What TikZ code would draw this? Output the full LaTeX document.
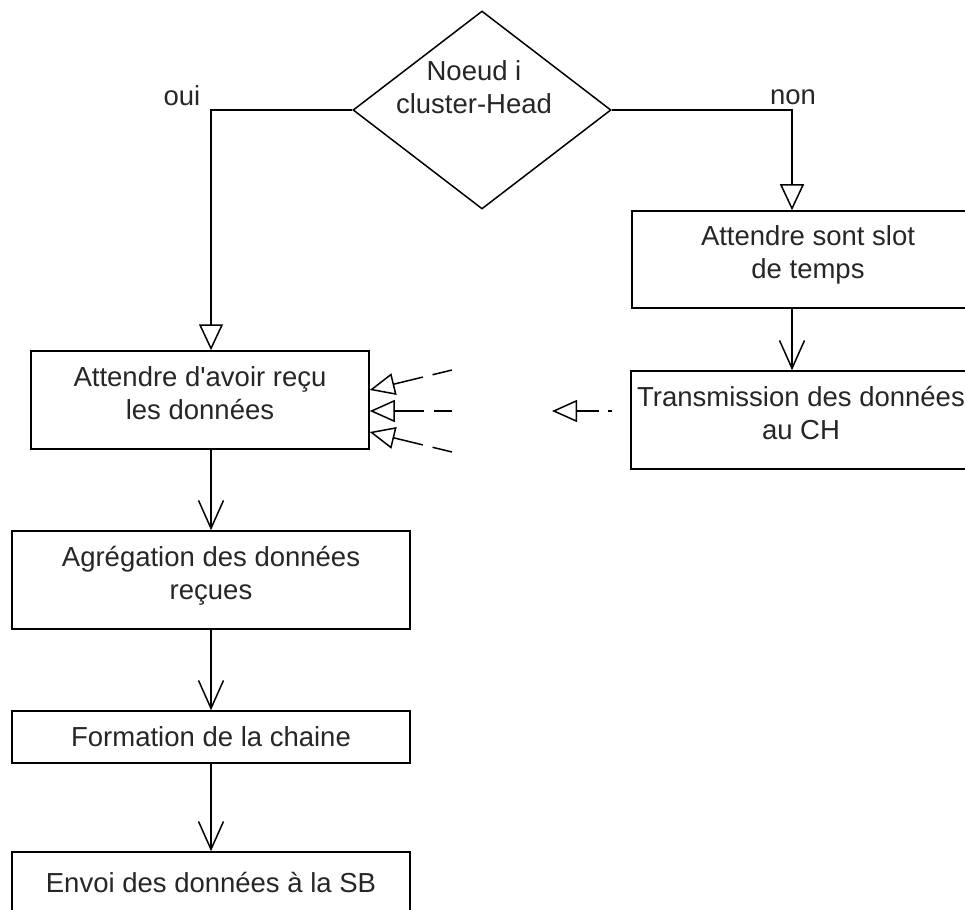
\documentclass[tikz,border=0pt]{standalone}
\usepackage{fontspec}
\setmainfont{Liberation Sans}
\usetikzlibrary{arrows.meta,shapes.geometric}
\begin{document}
\begin{tikzpicture}[x=1pt,y=-1pt,line width=1.5pt,
  every node/.style={font=\fontsize{27.5}{33}\selectfont, text=black!85},
  stepbox/.style={draw, rectangle, inner sep=0pt, align=center},
  % two-line boxes: text sits a little above the middle
  lifted/.style={execute at end node={\rule[-14pt]{0pt}{14pt}}},
  decision/.style={draw, diamond, inner sep=0pt, minimum width=258pt, minimum height=198pt},
  flow/.style={-{Straight Barb[length=28pt,width=25pt]}},
  branch/.style={-{Triangle[open,length=26pt,width=24pt]}},
  incoming/.style={{Triangle[open,length=25pt,width=22pt]}-},
]
\useasboundingbox (0,0) rectangle (965,909);
\clip (0,0) rectangle (965,909);

% decision
\node[decision] (dec) at (482,110) {};
\node[align=center] (dectext) at (474,87) {Noeud i\\cluster-Head};

% cluster-head branch
\node[stepbox, lifted, minimum width=338pt, minimum height=98pt] (wait) at (200,400)
  {Attendre d\textquotesingle avoir reçu\\les données};
\node[stepbox, lifted, minimum width=398pt, minimum height=98pt] (agg) at (211,580)
  {Agrégation des données\\reçues};
\node[stepbox, minimum width=398pt, minimum height=52pt] (chain) at (211,737)
  {Formation de la chaine};
\node[stepbox, minimum width=398pt, minimum height=60pt] (send) at (211,882)
  {Envoi des données à la SB};

% member branch
\node[stepbox, lifted, minimum width=352pt, minimum height=97pt] (slot) at (808,259.5)
  {Attendre sont slot\\de temps};
\node[stepbox, lifted, minimum width=340pt, minimum height=98pt] (trans) at (801,420)
  {Transmission des données\\au CH};

% labels
\node (oui) at (182,96) {oui};
\node (non) at (793,97) {non};

% connectors
\draw[branch] (dec.west) -| ([xshift=11pt]wait.north);
\draw[branch] (dec.east) -| ([xshift=-16pt]slot.north);
\draw[flow] ([xshift=-16pt]slot.south) -- ([xshift=-16pt]slot.south |- trans.north);
\draw[flow] (agg.north |- wait.south) -- (agg.north);
\draw[flow] (agg.south) -- (chain.north);
\draw[flow] (chain.south) -- (send.north);

% incoming data from members
\coordinate (m1) at (452,370);
\coordinate (m2) at (452,411);
\coordinate (m3) at (452,452);
\coordinate (t4) at (552,411);
\coordinate (m4) at (612,411);
\draw[incoming, dash pattern=on 30pt off 10pt] ([yshift=10pt]wait.east) -- (m1);
\draw[incoming, dash pattern=on 30pt off 10pt] ([yshift=-11pt]wait.east) -- (m2);
\draw[incoming, dash pattern=on 30pt off 10pt] ([yshift=-32pt]wait.east) -- (m3);
\draw[incoming, dash pattern=on 22pt off 9pt] (t4) -- (m4);
\end{tikzpicture}
\end{document}
